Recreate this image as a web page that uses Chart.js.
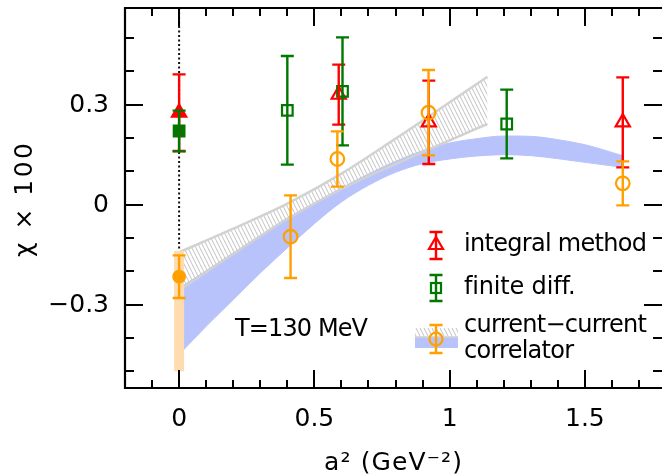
<!DOCTYPE html>
<html><head><meta charset="utf-8">
<script src="https://cdn.jsdelivr.net/npm/chart.js@4.4.1/dist/chart.umd.min.js"></script>
<style>html,body{margin:0;padding:0;background:#fff;overflow:hidden}</style>
</head><body>
<canvas id="c" width="662" height="475" style="display:block;width:662px;height:475px"></canvas>
<script>
// ---- data ----
const intX = [0, 0.59, 0.923, 1.64];
const intY = [0.276, 0.33, 0.247, 0.247];
const intErr = [0.115, 0.09, 0.125, 0.135];

const fdX = [0, 0.40, 0.604, 1.211];
const fdY = [0.221, 0.283, 0.34, 0.242];
const fdErr = [0.061, 0.163, 0.162, 0.103];

const ccX = [0, 0.412, 0.585, 0.922, 1.64];
const ccY = [-0.216, -0.096, 0.137, 0.276, 0.064];
const ccErr = [0.064, 0.124, 0.083, 0.128, 0.066];

const contBandX = [0, 0];
const contBandY = [-0.5, -0.138];

const dotX = [0, 0];
const dotY = [0.59, -0.138];

const grayX = [0, 0.2, 0.4, 0.6, 0.8, 1.0, 1.14];
const grayUp = [-0.143, -0.072, 0.003, 0.093, 0.198, 0.307, 0.384];
const grayLo = [-0.257, -0.148, -0.043, 0.047, 0.122, 0.193, 0.242];

const blueX = [0, 0.1, 0.2, 0.3, 0.4, 0.5, 0.6, 0.7, 0.8, 0.9, 1.0, 1.1, 1.2, 1.3, 1.4, 1.5, 1.64];
const blueUp = [-0.25, -0.198, -0.145, -0.092, -0.04, 0.005, 0.05, 0.092, 0.13, 0.162, 0.185, 0.198, 0.206, 0.205, 0.195, 0.18, 0.147];
const blueLo = [-0.45, -0.365, -0.285, -0.205, -0.13, -0.057, 0.008, 0.058, 0.097, 0.123, 0.137, 0.146, 0.15, 0.147, 0.138, 0.127, 0.112];

const xTickVals = [0, 0.5, 1, 1.5];
const xTickLabels = ['0', '0.5', '1', '1.5'];
const yTickVals = [-0.3, 0, 0.3];
const yTickLabels = ['\u22120.3', '0', '0.3'];

const legendLabels = ['integral method', 'finite diff.', 'current\u2212current', 'correlator'];
const annotation = 'T=130 MeV';
const xTitle = 'a\u00B2 (GeV\u207B\u00B2)';
const yTitle = '\u03C7 \u00D7 100';

// ---- style ----
const RED = '#ff0000', GREEN = '#007800', ORANGE = '#ffa000';
const BLUE = '#b8c3fb', GRAYL = '#d2d2d2', PEACH = '#fedcb0';
const FONT = '"DejaVu Sans", sans-serif';

const canvas = document.getElementById('c');
const ctx = canvas.getContext('2d');

const pc = document.createElement('canvas');
pc.width = 4; pc.height = 8;
const pg = pc.getContext('2d');
pg.strokeStyle = '#cccccc'; pg.lineWidth = 1.1;
for (const k of [-4, 0, 4]) { pg.beginPath(); pg.moveTo(k, 0); pg.lineTo(k + 4, 8); pg.stroke(); }
const hatch = ctx.createPattern(pc, 'repeat');

const pts = (xs, ys) => xs.map((x, i) => ({x, y: ys[i]}));
const open = (xs, col) => xs.map((x, i) => i === 0 ? col : 'rgba(0,0,0,0)');

function fitText(c, txt, x, y, w, align) {
  c.letterSpacing = '0px';
  const m = c.measureText(txt).width;
  const n = Math.max(txt.length - 1, 1);
  const ls = (w - m) / n;
  try { c.letterSpacing = ls + 'px'; } catch (e) {}
  const real = ('letterSpacing' in c) ? w : m;
  let sx = x;
  if (align === 'center') sx = x - real / 2;
  else if (align === 'right') sx = x - real;
  c.textAlign = 'left';
  c.fillText(txt, sx, y);
  c.letterSpacing = '0px';
}

function drawErr(c, px, t, b, col, hw) {
  c.strokeStyle = col; c.lineWidth = 2.4;
  c.beginPath();
  c.moveTo(px, t); c.lineTo(px, b);
  c.moveTo(px - hw, t); c.lineTo(px + hw, t);
  c.moveTo(px - hw, b); c.lineTo(px + hw, b);
  c.stroke();
}

const errPlugin = {
  id: 'errbars',
  afterDatasetsDraw(chart) {
    const c = chart.ctx, xs = chart.scales.x, ys = chart.scales.y;
    const groups = [[intX, intY, intErr, RED], [fdX, fdY, fdErr, GREEN], [ccX, ccY, ccErr, ORANGE]];
    c.save();
    for (const [gx, gy, ge, col] of groups) {
      gx.forEach((xv, i) => {
        drawErr(c, xs.getPixelForValue(xv), ys.getPixelForValue(gy[i] + ge[i]), ys.getPixelForValue(gy[i] - ge[i]), col, 6.5);
      });
    }
    c.restore();
  }
};

const framePlugin = {
  id: 'frame',
  afterDraw(chart) {
    const c = chart.ctx, xs = chart.scales.x, ys = chart.scales.y;
    const {left, right, top, bottom} = chart.chartArea;
    c.save();
    c.strokeStyle = '#000'; c.lineWidth = 2.2;
    c.beginPath();
    c.moveTo(left, top); c.lineTo(right + 2, top);
    c.moveTo(left, top - 1); c.lineTo(left, bottom + 1);
    c.moveTo(left, bottom); c.lineTo(right + 2, bottom);
    c.stroke();
    // ticks
    c.lineWidth = 2;
    c.beginPath();
    for (let k = -1; k <= 17; k++) {
      const v = k / 10;
      const major = xTickVals.some(t => Math.abs(t - v) < 1e-6);
      const L = major ? 18 : 8;
      const px = Math.round(xs.getPixelForValue(v));
      c.moveTo(px, bottom); c.lineTo(px, bottom - L);
      c.moveTo(px, top); c.lineTo(px, top + L);
    }
    for (let k = -5; k <= 5; k++) {
      const v = k / 10;
      const major = yTickVals.some(t => Math.abs(t - v) < 1e-6);
      const L = major ? 18 : 9;
      const py = Math.round(ys.getPixelForValue(v));
      c.moveTo(left, py); c.lineTo(left + L, py);
      c.moveTo(right, py); c.lineTo(right - L, py);
    }
    c.stroke();
    // tick labels
    c.fillStyle = '#000';
    c.textBaseline = 'middle';
    c.font = '25px ' + FONT;
    xTickVals.forEach((v, i) => {
      c.textAlign = 'center';
      c.fillText(xTickLabels[i], xs.getPixelForValue(v), 419);
    });
    yTickVals.forEach((v, i) => {
      c.textAlign = 'right';
      c.fillText(yTickLabels[i], 109, ys.getPixelForValue(v) + 1);
    });
    // titles
    c.font = '25px ' + FONT;
    fitText(c, xTitle, 393, 463, 138, 'center');
    c.save();
    c.translate(25, 200);
    c.rotate(-Math.PI / 2);
    fitText(c, yTitle, 0, 0, 114, 'center');
    c.restore();
    // annotation
    c.font = '24px ' + FONT;
    fitText(c, annotation, 235, 330, 133, 'left');
    // legend
    c.font = '24px ' + FONT;
    fitText(c, legendLabels[0], 464, 245, 183, 'left');
    fitText(c, legendLabels[1], 464, 288, 113, 'left');
    fitText(c, legendLabels[2], 464, 326, 183, 'left');
    fitText(c, legendLabels[3], 464, 352, 110, 'left');
    const lx = 436;
    // band swatch
    c.fillStyle = BLUE; c.fillRect(415, 337, 43, 11);
    c.fillStyle = hatch; c.fillRect(415, 328, 43, 9);
    c.strokeStyle = GRAYL; c.lineWidth = 1.5;
    c.beginPath(); c.moveTo(415, 337); c.lineTo(458, 337); c.stroke();
    // error bars in legend
    drawErr(c, lx, 232, 259, RED, 6.5);
    drawErr(c, lx, 275, 301, GREEN, 6.5);
    drawErr(c, lx, 325, 353, ORANGE, 6.5);
    // markers
    c.lineWidth = 2.2;
    c.strokeStyle = RED;
    c.beginPath();
    c.moveTo(lx, 245 - 8); c.lineTo(lx + 7, 245 + 4); c.lineTo(lx - 7, 245 + 4); c.closePath(); c.stroke();
    c.strokeStyle = GREEN;
    c.strokeRect(lx - 5, 288 - 5, 10, 10);
    c.strokeStyle = ORANGE;
    c.beginPath(); c.arc(lx, 339, 6.5, 0, Math.PI * 2); c.stroke();
    c.restore();
  }
};

new Chart(ctx, {
  type: 'scatter',
  data: {
    datasets: [
      {type: 'line', data: pts(blueX, blueUp), borderColor: BLUE, borderWidth: 1, pointRadius: 0, cubicInterpolationMode: 'monotone', fill: '+1', backgroundColor: BLUE, showLine: true, order: 10},
      {type: 'line', data: pts(blueX, blueLo), borderColor: BLUE, borderWidth: 1, pointRadius: 0, cubicInterpolationMode: 'monotone', fill: false, showLine: true, order: 10},
      {type: 'line', data: pts(grayX, grayUp), borderColor: GRAYL, borderWidth: 2.5, pointRadius: 0, cubicInterpolationMode: 'monotone', fill: '+1', backgroundColor: hatch, showLine: true, order: 8},
      {type: 'line', data: pts(grayX, grayLo), borderColor: GRAYL, borderWidth: 2.5, pointRadius: 0, cubicInterpolationMode: 'monotone', fill: false, showLine: true, order: 8},
      {type: 'line', data: pts(contBandX, contBandY), borderColor: PEACH, borderWidth: 10, borderCapStyle: 'butt', pointRadius: 0, fill: false, showLine: true, order: 6},
      {type: 'line', data: pts(dotX, dotY), borderColor: '#111', borderWidth: 2, borderDash: [2, 2.5], pointRadius: 0, fill: false, showLine: true, order: 5},
      {data: pts(intX, intY), pointStyle: 'triangle', pointRadius: 8.2, pointBorderColor: RED, pointBackgroundColor: open(intX, RED), pointBorderWidth: 2.2, showLine: false, order: 2},
      {data: pts(fdX, fdY), pointStyle: 'rect', pointRadius: 7.5, pointBorderColor: GREEN, pointBackgroundColor: open(fdX, GREEN), pointBorderWidth: 2.2, showLine: false, order: 1},
      {data: pts(ccX, ccY), pointStyle: 'circle', pointRadius: ccX.map((x, i) => i === 0 ? 5.8 : 6.8), pointBorderColor: ORANGE, pointBackgroundColor: open(ccX, ORANGE), pointBorderWidth: 2.2, showLine: false, order: 0}
    ]
  },
  options: {
    responsive: false,
    animation: false,
    devicePixelRatio: 1,
    events: [],
    layout: {autoPadding: false, padding: {left: 125, top: 8, right: 0, bottom: 87}},
    plugins: {legend: {display: false}, tooltip: {enabled: false}},
    scales: {
      x: {type: 'linear', min: -0.2, max: 1.785, display: false},
      y: {type: 'linear', min: -0.55, max: 0.59, display: false}
    }
  },
  plugins: [errPlugin, framePlugin]
});
</script>
</body></html>
